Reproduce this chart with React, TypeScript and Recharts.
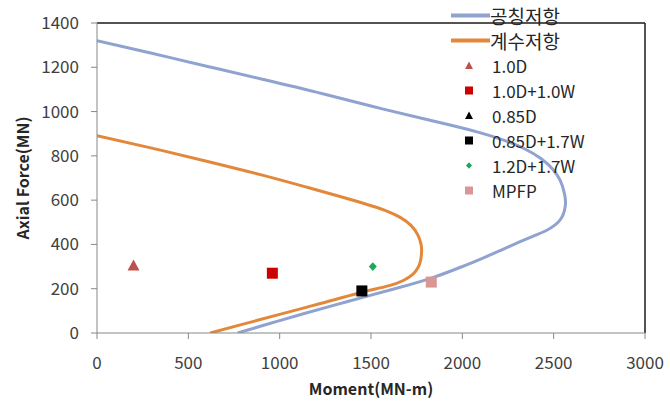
import { ComposedChart, Line, Scatter, XAxis, YAxis, ReferenceLine } from "recharts"

const xTicks = [0, 500, 1000, 1500, 2000, 2500, 3000]
const yTicks = [0, 200, 400, 600, 800, 1000, 1200, 1400]

// 공칭저항 (nominal strength) interaction curve
const nominalMoment = [0, 300, 600, 900, 1200, 1500, 1800, 1950, 2100, 2230, 2340, 2430, 2495, 2535, 2556, 2565, 2559, 2541, 2508, 2460, 2395, 2310, 2206, 2100, 1990, 1830, 1640, 1460, 1300, 1130, 950, 770]
const nominalAxial = [1320, 1263, 1205, 1147, 1088, 1025, 965, 936, 904, 870, 832, 788, 740, 690, 640, 595, 553, 517, 488, 463, 440, 410, 372, 334, 297, 248, 202, 162, 126, 87, 44, 0]

// 계수저항 (factored strength) interaction curve
const factoredMoment = [0, 300, 600, 900, 1150, 1350, 1480, 1580, 1660, 1720, 1757, 1774, 1777, 1772, 1757, 1725, 1677, 1600, 1450, 1300, 1150, 1000, 800, 620]
const factoredAxial = [891, 835, 776, 714, 658, 612, 580, 553, 522, 485, 442, 400, 370, 330, 295, 262, 237, 214, 184, 150, 117, 84, 40, 0]

// load cases
const caseNames = ["1.0D", "1.0D+1.0W", "0.85D", "0.85D+1.7W", "1.2D+1.7W", "MPFP"]
const caseMoment = [[200], [960], [], [1450], [1510], [1830]]
const caseAxial = [[305], [270], [], [190], [300], [230]]

const curveNames = ["공칭저항", "계수저항"]
const curveColors = ["#8fa2d0", "#e3883a"]
const caseColors = ["#c0504d", "#cc0000", "#000000", "#000000", "#1ea65a", "#d99694"]
const caseKinds = ["triangle", "square", "triangle", "square", "diamond", "square"]
const caseSizes = [12, 11, 12, 11, 8, 11]

const nominal = nominalMoment.map((m, i) => ({ m, p: nominalAxial[i] }))
const factored = factoredMoment.map((m, i) => ({ m, p: factoredAxial[i] }))

function markerPath(kind: string, cx: number, cy: number, s: number, color: string) {
  const h = s / 2
  if (kind === "triangle") {
    return <polygon points={`${cx},${cy - h} ${cx + h},${cy + h * 0.85} ${cx - h},${cy + h * 0.85}`} fill={color} />
  }
  if (kind === "diamond") {
    return <polygon points={`${cx},${cy - h * 1.1} ${cx + h},${cy} ${cx},${cy + h * 1.1} ${cx - h},${cy}`} fill={color} />
  }
  return <rect x={cx - h} y={cy - h} width={s} height={s} fill={color} />
}

const font = "'Noto Sans CJK KR', 'Noto Sans', sans-serif"

function YLabel() {
  return (
    <text x={22} y={178} transform="rotate(-90 22 178)" textAnchor="middle" dominantBaseline="central"
      fontFamily={font} fontWeight={700} fontSize={16} fill="#262626">
      Axial Force(MN)
    </text>
  )
}

export default function App() {
  return (
    <div style={{ position: "absolute", left: 0, top: 0, width: 670, height: 401, background: "#fff" }}>
      <style>{`body{margin:0}`}</style>
      <ComposedChart width={670} height={401} margin={{ top: 23, right: 25, bottom: 0, left: 0 }}>
        <XAxis
          type="number"
          dataKey="m"
          domain={[0, 3000]}
          ticks={xTicks}
          allowDataOverflow
          stroke="#888888"
          tickSize={6}
          tickMargin={18}
          height={68}
          tick={{ fill: "#404040", fontSize: 17, fontFamily: font }}
          label={{ value: "Moment(MN-m)", position: "insideBottom", offset: 6, fill: "#262626", fontSize: 16, fontWeight: 700, fontFamily: font }}
        />
        <YAxis
          type="number"
          dataKey="p"
          domain={[0, 1400]}
          ticks={yTicks}
          allowDataOverflow
          stroke="#888888"
          tickSize={6}
          tickMargin={12}
          width={97}
          tick={{ fill: "#404040", fontSize: 17, fontFamily: font }}
          label={{ content: () => <YLabel /> }}
        />
        <ReferenceLine y={1400} stroke="#1a1a1a" strokeWidth={1.5} />
        <ReferenceLine x={3000} stroke="#1a1a1a" strokeWidth={1.5} />
        <Line data={nominal} dataKey="p" name={curveNames[0]} type="natural" stroke={curveColors[0]} strokeWidth={3} dot={false} isAnimationActive={false} />
        <Line data={factored} dataKey="p" name={curveNames[1]} type="natural" stroke={curveColors[1]} strokeWidth={3} dot={false} isAnimationActive={false} />
        {caseNames.map((name, i) => (
          <Scatter
            key={name}
            name={name}
            data={caseMoment[i].map((m, j) => ({ m, p: caseAxial[i][j] }))}
            dataKey="p"
            isAnimationActive={false}
            shape={(props: any) => markerPath(caseKinds[i], props.cx, props.cy, caseSizes[i], caseColors[i])}
          />
        ))}
      </ComposedChart>
      <div style={{ position: "absolute", left: 450, top: 3, fontFamily: font, color: "#262626" }}>
        {curveNames.map((name, i) => (
          <div key={name} style={{ display: "flex", alignItems: "center", height: 25 }}>
            <svg width={40} height={25}>
              <line x1={1} x2={40} y1={12.5} y2={12.5} stroke={curveColors[i]} strokeWidth={4} />
            </svg>
            <span style={{ fontSize: 19 }}>{name}</span>
          </div>
        ))}
        {caseNames.map((name, i) => (
          <div key={name} style={{ display: "flex", alignItems: "center", height: 25 }}>
            <svg width={42} height={25}>
              {markerPath(caseKinds[i], 19, 12.5, caseKinds[i] === "diamond" ? 6 : 8, caseColors[i])}
            </svg>
            <span style={{ fontSize: 17 }}>{name}</span>
          </div>
        ))}
      </div>
    </div>
  )
}
